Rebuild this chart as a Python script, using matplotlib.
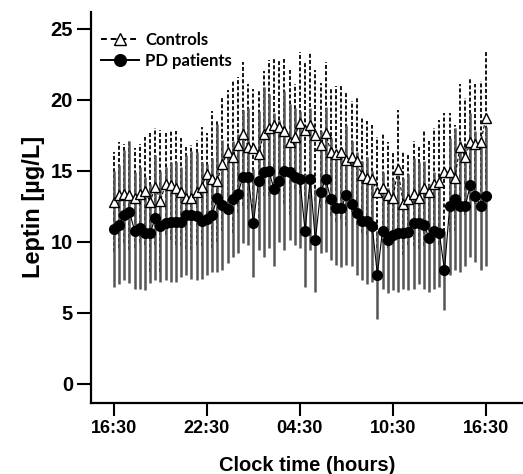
import matplotlib
matplotlib.use("Agg")
import matplotlib.pyplot as plt
import numpy as np

# 20-minute samples from 16:30 to 16:30 next day (hours after 16:30)
hours = np.arange(73) / 3.0
tick_hours = [0, 6, 12, 18, 24]
tick_labels = ["16:30", "22:30", "04:30", "10:30", "16:30"]

ctrl_mean = [12.8, 13.3, 13.4, 13.3, 13.1, 13.4, 13.6, 12.8, 13.9, 12.9,
             14.1, 14.0, 13.8, 13.5, 13.1, 13.1, 13.5, 13.9, 14.8, 14.4,
             14.3, 15.5, 16.3, 16.0, 16.8, 17.6, 16.7, 16.6, 16.2, 17.6,
             18.0, 18.2, 18.1, 17.8, 17.0, 17.4, 18.4, 17.9, 18.2, 17.5,
             16.8, 17.7, 16.3, 16.2, 16.3, 15.8, 16.0, 15.7, 14.7, 14.5,
             14.4, 13.5, 13.8, 13.3, 13.1, 15.1, 12.7, 13.0, 13.4, 13.1,
             13.8, 13.5, 14.1, 14.2, 14.9, 14.9, 14.5, 16.7, 16.0, 17.0,
             16.9, 17.0, 18.7]
ctrl_upper = [16.3, 17.0, 16.9, 17.2, 16.6, 16.9, 17.4, 17.7, 18.0, 17.9,
              17.7, 17.9, 17.8, 17.3, 16.7, 16.8, 17.2, 18.1, 17.7, 19.2,
              18.6, 20.2, 20.7, 21.4, 21.6, 22.7, 21.1, 20.8, 20.7, 22.0,
              22.8, 22.9, 22.8, 22.9, 22.1, 21.1, 23.4, 22.6, 23.4, 22.1,
              21.2, 22.7, 20.8, 21.0, 21.0, 20.5, 19.9, 20.2, 18.8, 18.5,
              18.2, 17.4, 17.7, 17.0, 16.3, 19.3, 16.3, 16.2, 17.1, 16.7,
              17.9, 17.1, 18.0, 18.6, 19.1, 19.1, 18.2, 21.1, 20.1, 21.5,
              21.1, 21.3, 23.4]
pd_mean = [10.9, 11.2, 11.9, 12.1, 10.8, 11.0, 10.6, 10.6, 11.7, 11.1,
           11.3, 11.4, 11.4, 11.4, 11.9, 11.9, 11.8, 11.5, 11.6, 11.9,
           13.1, 12.6, 12.3, 13.0, 13.4, 14.6, 14.6, 11.3, 14.3, 14.9,
           15.0, 13.7, 14.3, 15.0, 14.9, 14.6, 14.4, 10.8, 14.4, 10.1,
           13.5, 14.4, 13.0, 12.4, 12.4, 13.3, 12.7, 12.0, 11.5, 11.5,
           11.1, 7.7, 10.8, 10.1, 10.5, 10.6, 10.6, 10.7, 11.3, 11.3,
           11.2, 10.3, 10.8, 10.6, 8.0, 12.5, 13.0, 12.5, 12.5, 14.0,
           13.2, 12.5, 13.2]
pd_lower = [6.8, 7.0, 7.3, 7.1, 6.7, 6.7, 6.6, 7.1, 7.3, 7.2,
            7.3, 7.2, 7.2, 7.5, 7.7, 7.4, 7.3, 7.4, 7.7, 7.9,
            7.9, 8.0, 8.5, 8.9, 9.2, 9.9, 9.8, 7.5, 9.4, 8.9,
            9.6, 8.3, 10.0, 9.4, 10.1, 9.8, 9.6, 6.8, 9.4, 6.5,
            9.2, 9.3, 8.7, 8.4, 8.2, 8.4, 8.3, 7.7, 7.3, 7.0,
            7.2, 4.6, 6.7, 6.4, 6.6, 6.5, 6.7, 6.6, 6.7, 7.0,
            6.7, 6.5, 6.7, 6.8, 5.2, 7.7, 8.0, 7.9, 8.3, 8.9,
            8.6, 8.0, 8.3]

ctrl_sd = np.array(ctrl_upper) - np.array(ctrl_mean)
pd_sd = np.array(pd_mean) - np.array(pd_lower)

plt.rcParams["font.family"] = ["Liberation Sans", "DejaVu Sans"]
plt.rcParams["font.weight"] = "bold"

fig = plt.figure(figsize=(5.23, 4.74), dpi=100)
ax = fig.add_axes([0.174, 0.150, 0.826, 0.825])

eb = ax.errorbar(hours, ctrl_mean, yerr=ctrl_sd, fmt="none", ecolor="black",
                 elinewidth=1.3, capsize=0, zorder=1)
eb[2][0].set_linestyle((0, (2.2, 1.2)))
ax.errorbar(hours, pd_mean, yerr=pd_sd, fmt="none", ecolor="#555555",
            elinewidth=1.8, capsize=0, zorder=2)

ax.plot(hours, ctrl_mean, color="black", lw=0.8, ls=(0, (3, 2)), marker="^",
        ms=7, mfc="white", mec="black", mew=1.0, zorder=3, label="Controls")
ax.plot(hours, pd_mean, color="black", lw=0.8, marker="o", ms=7,
        mfc="black", mec="black", zorder=4, label="PD patients")

ax.set_xlim(-1.48, 26.4)
ax.set_ylim(-1.34, 26.2)
ax.set_xticks(tick_hours)
ax.set_xticklabels(tick_labels)
ax.set_yticks([0, 5, 10, 15, 20, 25])
for s in ["top", "right"]:
    ax.spines[s].set_visible(False)
for s in ["left", "bottom"]:
    ax.spines[s].set_linewidth(1.6)
ax.tick_params(axis="both", length=9, width=1.5, pad=3)
ax.tick_params(axis="x", labelsize=13)
ax.tick_params(axis="y", labelsize=14.5, length=10)

ax.set_xlabel("Clock time (hours)", fontsize=14.5, fontweight="bold", labelpad=14)
ax.set_ylabel("Leptin [\u00b5g/L]", fontsize=17, fontweight="bold", labelpad=4)

leg = ax.legend(loc="upper left", bbox_to_anchor=(0.0, 0.975), frameon=False,
                handlelength=2.3, handletextpad=0.35, borderaxespad=0.2,
                labelspacing=0.3, markerscale=1.2,
                prop={"family": "Lato", "weight": "bold", "size": 12})
for h in leg.get_lines():
    h.set_linewidth(1.4)

fig.savefig("out.png", dpi=100)
